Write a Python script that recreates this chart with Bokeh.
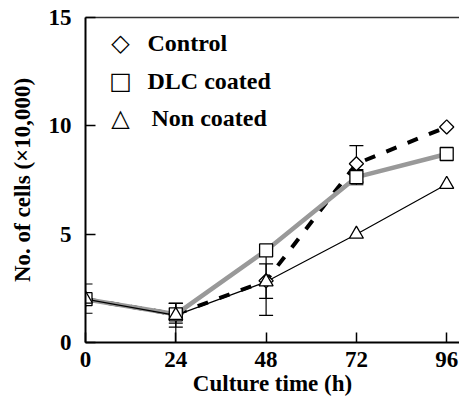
import math
from bokeh.plotting import figure
from bokeh.models import (ColumnDataSource, Whisker, TeeHead, FixedTicker, LinearAxis,
                          Label, Range1d)
from bokeh.embed import file_html
from bokeh.resources import INLINE

# ---- data ----
hours = [0, 24, 48, 72, 96]
control = [2.0, 1.3, 2.85, 8.25, 9.95]
dlc = [2.0, 1.3, 4.25, 7.63, 8.7]
non_coated = [2.0, 1.25, 2.8, 5.0, 7.3]

control_lo = [1.35, 0.89, 2.04, 7.4, None]
control_hi = [2.7, 1.81, 3.63, 9.09, None]
dlc_lo = [None, 0.71, None, 7.28, None]
dlc_hi = [None, 1.81, None, 7.98, None]
non_lo = [None, 0.0, 1.25, None, None]
non_hi = [None, 1.81, 4.35, None, None]

series_names = ["Control", "DLC coated", "Non coated"]
series_symbols = ["◇", "□", "△"]

x_ticks = [0, 24, 48, 72, 96]
y_ticks = [0, 5, 10, 15]

FONT = "Liberation Serif"
SYM_FONT = "DejaVu Sans"

p = figure(width=459, height=404, x_range=Range1d(0, 99.4), y_range=Range1d(0, 15),
           output_backend="svg", toolbar_location=None,
           min_border_left=85, min_border_top=17, min_border_right=0, min_border_bottom=62)
p.grid.visible = False
p.outline_line_color = None
p.background_fill_color = "white"
p.border_fill_color = "white"

# axes
for ax in (p.xaxis[0], p.yaxis[0]):
    ax.major_tick_in = 10
    ax.major_tick_out = 0
    ax.minor_tick_line_color = None
    ax.axis_line_width = 2
    ax.axis_line_color = "black"
    ax.major_tick_line_color = "black"
    ax.major_tick_line_width = 1.5
    ax.major_label_text_font = FONT
    ax.major_label_text_font_style = "bold"
    ax.major_label_text_font_size = "23px"
    ax.major_label_text_color = "black"
    ax.axis_label_text_font = FONT
    ax.axis_label_text_font_style = "bold"
    ax.axis_label_text_font_size = "23px"
    ax.axis_label_text_color = "black"

p.xaxis[0].ticker = FixedTicker(ticks=x_ticks)
p.yaxis[0].ticker = FixedTicker(ticks=y_ticks)
p.xaxis[0].axis_label = "Culture time (h)"
p.yaxis[0].axis_label = "No. of cells (×10,000)"
p.xaxis[0].major_label_standoff = 9
p.xaxis[0].axis_label_standoff = 1
p.yaxis[0].major_label_standoff = 14
p.yaxis[0].axis_label_standoff = 11

top = LinearAxis(ticker=FixedTicker(ticks=[]), axis_line_width=1.5, axis_line_color="#333333",
                 major_tick_line_color=None, minor_tick_line_color=None)
p.add_layout(top, "above")


def whisker(lo, hi):
    xs, l, u = [], [], []
    for x, a, b in zip(hours, lo, hi):
        if a is not None and b is not None:
            xs.append(x); l.append(a); u.append(b)
    src = ColumnDataSource(dict(x=xs, lower=l, upper=u))
    w = Whisker(source=src, base="x", lower="lower", upper="upper", dimension="height",
                line_color="black", line_width=1.2, level="underlay",
                upper_head=TeeHead(size=14, line_color="black", line_width=1.2),
                lower_head=TeeHead(size=14, line_color="black", line_width=1.2))
    p.add_layout(w)


whisker(control_lo, control_hi)
whisker(dlc_lo, dlc_hi)
whisker(non_lo, non_hi)

# lines
p.line(hours, control, line_color="black", line_width=4, line_dash="11 12")
p.line(hours, dlc, line_color="#999999", line_width=4.5)
p.line(hours, non_coated, line_color="black", line_width=1.2)

# markers
p.scatter(hours, control, marker="square", size=10, angle=math.pi / 4, fill_color="white",
          line_color="black", line_width=1.3)
p.scatter(hours, dlc, marker="square", size=13, fill_color="white",
          line_color="black", line_width=1.3)
p.scatter(hours, non_coated, marker="triangle", size=14, fill_color="white",
          line_color="black", line_width=1.3)

# legend drawn as text (symbol + name), screen units from the frame's bottom-left
row_y = [300, 262, 225]
name_x = [62, 62, 66]
for sym, name, yy, nx in zip(series_symbols, series_names, row_y, name_x):
    p.add_layout(Label(x=35, y=yy, x_units="screen", y_units="screen", text=sym,
                       text_font=SYM_FONT, text_font_size="24px", text_align="center",
                       text_baseline="middle", text_color="black"))
    p.add_layout(Label(x=nx, y=yy, x_units="screen", y_units="screen", text=name,
                       text_font=FONT, text_font_style="bold", text_font_size="24px",
                       text_align="left", text_baseline="middle", text_color="black"))

open("out.html", "w").write(file_html(p, INLINE))
